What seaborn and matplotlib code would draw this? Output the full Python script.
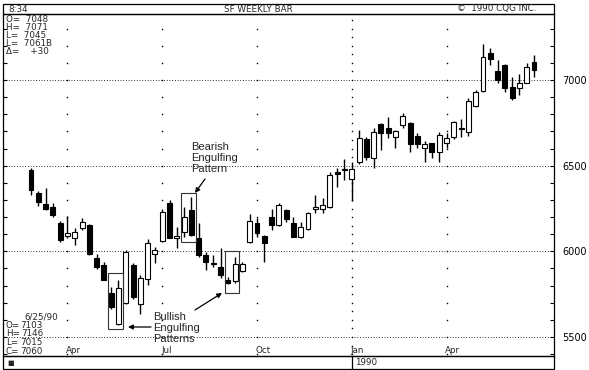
import numpy as np
import pandas as pd
import matplotlib
matplotlib.use("Agg")
import matplotlib.pyplot as plt
import seaborn as sns
from matplotlib.patches import Rectangle
from matplotlib.lines import Line2D

# ---------------- data ----------------
first_week = "1989-02-27"
opens = [6475, 6340, 6276, 6259, 6165, 6090, 6078, 6136, 6154, 5961,
         5920, 5757, 5576, 5700, 5920, 5693, 5839, 5985, 6060, 6282,
         6080, 6113, 6241, 6078, 5978, 5932, 5910, 5832, 5826, 5885,
         6055, 6165, 6090, 6200, 6155, 6240, 6165, 6085, 6130, 6250,
         6250, 6260, 6465, 6475, 6420, 6520, 6655, 6545, 6745, 6720,
         6665, 6740, 6750, 6675, 6605, 6630, 6580, 6630, 6665, 6712,
         6695, 6850, 6935, 7155, 7050, 7085, 6960, 6955, 6985, 7103]
highs = [6486, 6352, 6370, 6285, 6175, 6206, 6136, 6195, 6160, 5985,
         5937, 5792, 5830, 6010, 5932, 5862, 6072, 6025, 6247, 6300,
         6142, 6259, 6317, 6165, 5996, 5980, 6020, 5850, 5965, 5940,
         6220, 6195, 6095, 6250, 6280, 6250, 6200, 6170, 6232, 6330,
         6310, 6465, 6485, 6540, 6520, 6710, 6665, 6720, 6750, 6785,
         6710, 6805, 6755, 6690, 6645, 6635, 6695, 6690, 6760, 6770,
         6895, 6940, 7210, 7185, 7115, 7095, 7015, 7035, 7100, 7146]
lows = [6329, 6265, 6240, 6200, 6055, 6078, 6037, 6125, 5980, 5897,
        5830, 5663, 5570, 5695, 5722, 5634, 5804, 5932, 6055, 6078,
        6020, 6084, 6090, 5967, 5890, 5910, 5845, 5810, 5815, 5878,
        6050, 6085, 5940, 6125, 6150, 6170, 6085, 6080, 6125, 6225,
        6225, 6255, 6375, 6415, 6295, 6510, 6535, 6485, 6590, 6660,
        6605, 6720, 6580, 6605, 6520, 6545, 6520, 6605, 6655, 6665,
        6675, 6840, 6930, 7090, 6985, 6930, 6885, 6910, 6980, 7015]
closes = [6358, 6288, 6247, 6212, 6066, 6107, 6113, 6171, 5985, 5909,
          5833, 5675, 5786, 5996, 5733, 5845, 6049, 6008, 6230, 6078,
          6090, 6200, 6095, 5979, 5938, 5926, 5862, 5818, 5926, 5925,
          6175, 6105, 6050, 6155, 6270, 6190, 6085, 6140, 6225, 6256,
          6270, 6445, 6450, 6480, 6480, 6660, 6550, 6695, 6690, 6690,
          6700, 6790, 6625, 6625, 6625, 6580, 6680, 6660, 6755, 6718,
          6875, 6930, 7135, 7120, 7000, 6955, 6895, 6985, 7075, 7060]

month_labels = ["Apr", "Jul", "Oct", "Jan", "Apr"]
month_starts = ["1989-04-03", "1989-07-03", "1989-10-02", "1990-01-01", "1990-04-02"]
year_start = "1990-01-01"
price_ticks = [5500, 6000, 6500, 7000]

top_readout = ["O=  7048", "H=  7071", "L=  7045", "L=  7061B", "Δ=    +30"]
last_readout = ["O=", "H=", "L=", "C="]
last_values = ["7103", "7146", "7015", "7060"]
last_date = "6/25/90"

# ---------------- figure ----------------
sns.set_style("white")
plt.rcParams["font.family"] = ["DejaVu Sans"]

W, H = 589, 370
fig = plt.figure(figsize=(W / 100, H / 100), dpi=100)
fig.patch.set_facecolor("white")

def fpx(x, y):
    return (x / W, 1 - y / H)

ax_l, ax_r, ax_t, ax_b = 3, 554, 14, 356
ax = fig.add_axes([ax_l / W, 1 - ax_b / H, (ax_r - ax_l) / W, (ax_b - ax_t) / H])
ax.set_facecolor("white")

dates = pd.date_range(first_week, periods=len(opens), freq="W-MON")
df = pd.DataFrame({"date": dates, "open": opens, "high": highs,
                   "low": lows, "close": closes})
df["x"] = np.arange(len(df))
df["up"] = df["close"] >= df["open"]

# axis ranges (candle 0 at px 31, 7.29 px per week)
step = 7.29
ax.set_xlim((ax_l - 31) / step, (ax_r - 31) / step)
ppu = 257 / 1500.0
ax.set_ylim(7000 - (ax_b - 80) / ppu, 7000 + (80 - ax_t) / ppu)

# horizontal dotted grid
for p in price_ticks:
    ax.axhline(p, color="black", lw=0.7, ls=(0, (0.8, 2.0)), zorder=1)

# vertical dotted month lines
mpos = dates.get_indexer(pd.to_datetime(month_starts))
ypos_year = dates.get_indexer(pd.to_datetime([year_start]))[0]
for pos in mpos:
    dens = 50 if pos == ypos_year else 100
    levels = np.arange(5400, 7400, dens)
    ax.plot(np.full(len(levels), pos), levels, ls="none", marker="s",
            ms=1.0, mew=0, color="black", zorder=1)

# month labels inside plot bottom
for pos, lab in zip(mpos, month_labels):
    ax.text(pos - 0.15, 0.016, lab, transform=ax.get_xaxis_transform(),
            ha="left", va="center", fontsize=6.3)

# candles
ax.vlines(df["x"], df["low"], df["high"], color="black", lw=1.0, zorder=2)
body_lo = df[["open", "close"]].min(axis=1)
body_h = (df["close"] - df["open"]).abs().clip(lower=6)
ax.bar(df["x"], body_h, bottom=body_lo, width=0.68,
       color=np.where(df["up"], "white", "black"),
       edgecolor="black", linewidth=0.8, zorder=3)

# ticks
ax.set_xticks([])
ax.set_yticks(price_ticks)
ax.set_yticks(np.arange(5400, 7400, 100), minor=True)
ax.yaxis.set_ticks_position("both")
ax.tick_params(axis="y", which="both", direction="in", length=3, width=0.8,
               left=True, right=True, labelleft=False, labelright=True,
               labelsize=7, pad=6, colors="black")
for s in ax.spines.values():
    s.set_color("black")
    s.set_linewidth(0.9)

# pattern boxes (first idx, last idx, price lo, price hi)
boxes = [(11, 12, 5547, 5874), (21, 22, 6055, 6340), (27, 28, 5757, 6002)]
for i0, i1, plo, phi in boxes:
    ax.add_patch(Rectangle((i0 - 0.45, plo), i1 - i0 + 1.05, phi - plo,
                           fill=False, edgecolor="#333333", lw=0.8, zorder=4))

# annotation texts
ann_font = dict(family=["Liberation Sans", "DejaVu Sans"], fontsize=8)
for k, line in enumerate(["Bearish", "Engulfing", "Pattern"]):
    fig.text(*fpx(191, 147 + 11 * k), line, ha="left", va="center", **ann_font)
for k, line in enumerate(["Bullish", "Engulfing", "Patterns"]):
    fig.text(*fpx(153, 317 + 11 * k), line, ha="left", va="center", **ann_font)

arrow = dict(arrowstyle="-|>", color="black", lw=0.9, mutation_scale=7,
             shrinkA=0, shrinkB=0)
for tail, head in [((205, 179), (195, 193)), ((151, 327), (128, 327)),
                   ((195, 310), (222, 293))]:
    ax.annotate("", xy=fpx(*head), xytext=fpx(*tail),
                xycoords="figure fraction", textcoords="figure fraction",
                arrowprops=arrow)

# readouts
for k, line in enumerate(top_readout):
    fig.text(*fpx(6, 19.5 + 8 * k), line, ha="left", va="center", fontsize=6.3)
fig.text(*fpx(24, 317), last_date, ha="left", va="center", fontsize=6.3)
for k, (a, b) in enumerate(zip(last_readout, last_values)):
    fig.text(*fpx(6, 325.5 + 8.5 * k), a, ha="left", va="center", fontsize=6.3)
    fig.text(*fpx(43, 325.5 + 8.5 * k), b, ha="right", va="center", fontsize=6.3)

# top and bottom strips
fig.add_artist(Rectangle(fpx(3, 14), (ax_r - 3) / W, 10 / H,
                         transform=fig.transFigure, fill=False, lw=0.9,
                         edgecolor="black"))
fig.text(*fpx(8, 9), "8:34", ha="left", va="center", fontsize=6.3)
fig.text(*fpx(258, 9), "SF WEEKLY BAR", ha="center", va="center", fontsize=6.3)
fig.text(*fpx(457, 9), "©  1990 CQG INC.", ha="left", va="center", fontsize=6.3)

fig.add_artist(Rectangle(fpx(3, 369), (ax_r - 3) / W, 13 / H,
                         transform=fig.transFigure, fill=False, lw=0.9,
                         edgecolor="black"))
fig.add_artist(Line2D([352 / W, 352 / W], [1 - 369 / H, 1 - 356 / H],
                      transform=fig.transFigure, color="black", lw=0.9))
fig.text(*fpx(7, 362.5), "■", ha="left", va="center", fontsize=5)
fig.text(*fpx(355, 362.5), "1990", ha="left", va="center", fontsize=6.3)

fig.savefig("out.png", dpi=100, facecolor="white")
